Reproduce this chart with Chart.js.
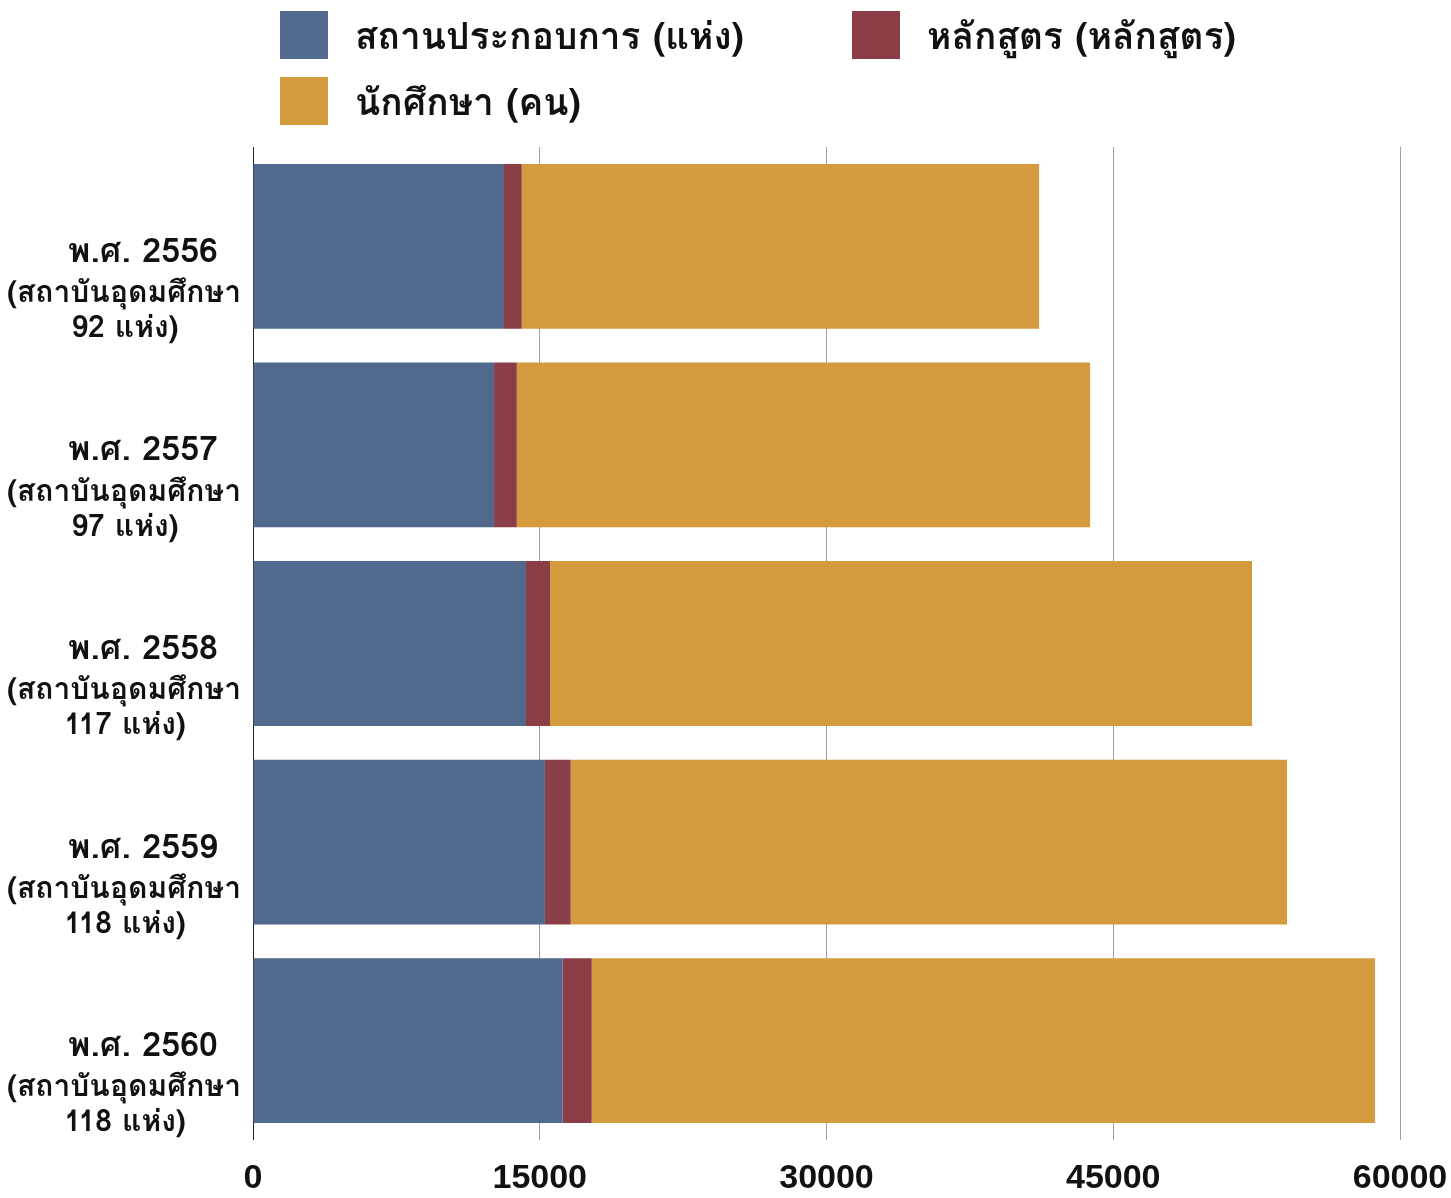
<!DOCTYPE html>
<html>
<head>
<meta charset="utf-8">
<script src="https://cdn.jsdelivr.net/npm/chart.js@4.4.0/dist/chart.umd.min.js"></script>
<style>
  html, body { margin: 0; padding: 0; background: #fff; }
  #wrap { position: relative; width: 1451px; height: 1198px; }
  #legend {
    position: absolute; left: 280px; top: 11px;
    display: grid; grid-template-columns: 572px auto; row-gap: 18px;
    font-family: "Loma", "Garuda", "Tahoma", "Noto Sans Thai Looped", "Noto Sans Thai", "DejaVu Sans", sans-serif;
    font-size: 37px; font-weight: bold; color: #111;
  }
  .item { display: flex; align-items: center; height: 48px; }
  .box { width: 48px; height: 48px; margin-right: 27px; }
  canvas { display: block; }
</style>
</head>
<body>
<div id="wrap">
  <div id="legend"></div>
  <canvas id="chart" width="1451" height="1198"></canvas>
</div>
<script>
const years = ["2556", "2557", "2558", "2559", "2560"];
const institutionCounts = [92, 97, 117, 118, 118];
const establishments = [13130, 12610, 14280, 15270, 16200];
const courses = [930, 1190, 1260, 1350, 1520];
const students = [27060, 29990, 36720, 37470, 40970];
const xTicks = [0, 15000, 30000, 45000, 60000];

const seriesNames = ["สถานประกอบการ (แห่ง)", "หลักสูตร (หลักสูตร)", "นักศึกษา (คน)"];
const colors = ["#50698c", "#8b3e48", "#d39b3e"];

const labels = years.map((y, i) => [
  "พ.ศ. " + y,
  "(สถาบันอุดมศึกษา",
  institutionCounts[i] + " แห่ง)",
]);

const thaiFont = '"Loma", "Garuda", "Tahoma", "Noto Sans Thai Looped", "Noto Sans Thai", "DejaVu Sans", sans-serif';

// legend as html
const legendEl = document.getElementById("legend");
seriesNames.forEach((name, i) => {
  const item = document.createElement("div");
  item.className = "item";
  item.innerHTML = '<span class="box" style="background:' + colors[i] + '"></span>' + name;
  legendEl.appendChild(item);
});

// draws the 3-line category labels, first line bigger
const yLabelPlugin = {
  id: "yLabels",
  afterDraw(chart) {
    const ctx = chart.ctx;
    const scale = chart.scales.y;
    ctx.save();
    ctx.fillStyle = "#111";
    ctx.textAlign = "center";
    ctx.textBaseline = "middle";
    labels.forEach((lines, i) => {
      const y = scale.getPixelForValue(i);
      ctx.font = "bold 34px " + thaiFont;
      ctx.fillText(lines[0], 143, y + 8);
      ctx.font = "bold 30px " + thaiFont;
      ctx.fillText(lines[1], 124, y + 49);
      ctx.fillText(lines[2], 125, y + 84);
    });
    ctx.restore();
  },
};

new Chart(document.getElementById("chart").getContext("2d"), {
  type: "bar",
  data: {
    labels: labels,
    datasets: [
      { label: seriesNames[0], data: establishments, backgroundColor: colors[0] },
      { label: seriesNames[1], data: courses, backgroundColor: colors[1] },
      { label: seriesNames[2], data: students, backgroundColor: colors[2] },
    ],
  },
  options: {
    indexAxis: "y",
    responsive: false,
    animation: false,
    layout: { padding: { top: 147, right: 51, left: 0, bottom: 0 } },
    datasets: { bar: { barPercentage: 0.83, categoryPercentage: 1 } },
    plugins: {
      legend: { display: false },
      tooltip: { enabled: false },
    },
    scales: {
      x: {
        stacked: true,
        min: 0,
        max: 60000,
        afterBuildTicks: (s) => { s.ticks = xTicks.map((v) => ({ value: v })); },
        afterFit: (s) => {
          s.height = 58;
          s.paddingRight = 51; // keep 60000 gridline where it sits in the original
        },
        grid: {
          drawTicks: false,
          color: (c) => (c.tick && c.tick.value === 0 ? "#222" : "#a0a0a0"),
          lineWidth: 1,
        },
        border: { display: false },
        ticks: {
          padding: 18,
          color: "#111",
          maxRotation: 0,
          callback: (v) => String(v),
          font: { family: '"Liberation Sans Narrow", "Liberation Sans", sans-serif', size: 34, weight: "bold" },
        },
      },
      y: {
        stacked: true,
        grid: { display: false },
        border: { display: false },
        ticks: { display: false },
        afterFit: (s) => { s.width = 253; },
      },
    },
  },
  plugins: [yLabelPlugin],
});
</script>
</body>
</html>
